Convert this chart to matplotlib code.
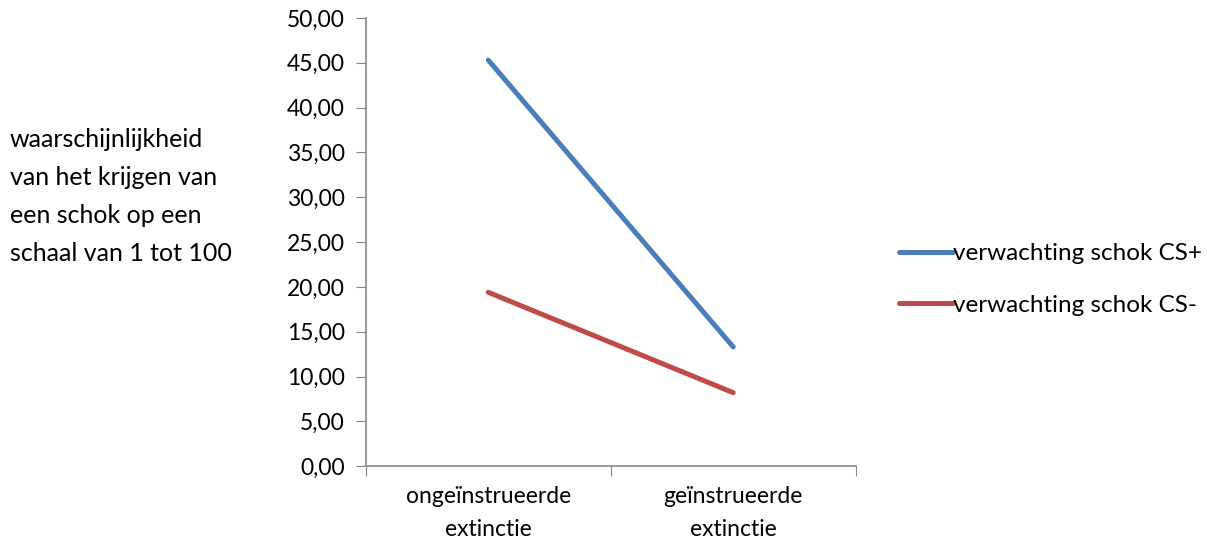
import numpy as np
import matplotlib.pyplot as plt

plt.rcParams['font.family'] = ['Lato', 'DejaVu Sans']

# Data
categories = ['ongeïnstrueerde\nextinctie', 'geïnstrueerde\nextinctie']
cs_plus = [45.3, 13.3]
cs_min = [19.4, 8.2]
series_labels = ['verwachting schok CS+', 'verwachting schok CS-']
ylabel_text = 'waarschijnlijkheid\nvan het krijgen van\neen schok op een\nschaal van 1 tot 100'

fig = plt.figure(figsize=(12.07, 5.44), dpi=100)
ax = fig.add_axes([0.303, 0.143, 0.406, 0.824])

x = np.arange(len(categories))
ax.plot(x, cs_plus, color='#4a7ebb', linewidth=3.6, solid_capstyle='round', label=series_labels[0])
ax.plot(x, cs_min, color='#be4b48', linewidth=3.6, solid_capstyle='round', label=series_labels[1])

ax.set_xlim(-0.5, 1.5)
ax.set_ylim(0, 50)
ax.set_yticks(np.arange(0, 51, 5))
ax.set_yticklabels([f'{v:.2f}'.replace('.', ',') for v in np.arange(0, 51, 5)], fontsize=16.5)

# Excel-style category axis: ticks between categories
ax.set_xticks([-0.5, 0.5, 1.5])
ax.set_xticklabels([])
ax.set_xticks(x, minor=True)
ax.set_xticklabels(categories, minor=True, fontsize=16.5, linespacing=1.75)
ax.tick_params(axis='x', which='minor', length=0, pad=14)
ax.tick_params(axis='x', which='major', length=7, direction='out', color='#868686')
ax.tick_params(axis='y', length=7, direction='out', color='#868686', pad=8)

for s in ['top', 'right']:
    ax.spines[s].set_visible(False)
for s in ['left', 'bottom']:
    ax.spines[s].set_color('#868686')
    ax.spines[s].set_linewidth(1.2)

fig.text(0.008, 0.639, ylabel_text, fontsize=18, ha='left', va='center', linespacing=1.78)

fig.legend(loc='center left', bbox_to_anchor=(0.727, 0.486), frameon=False, fontsize=17.5,
           handlelength=2.2, handletextpad=0.0, labelspacing=1.25)

fig.savefig('out.png', dpi=100)
